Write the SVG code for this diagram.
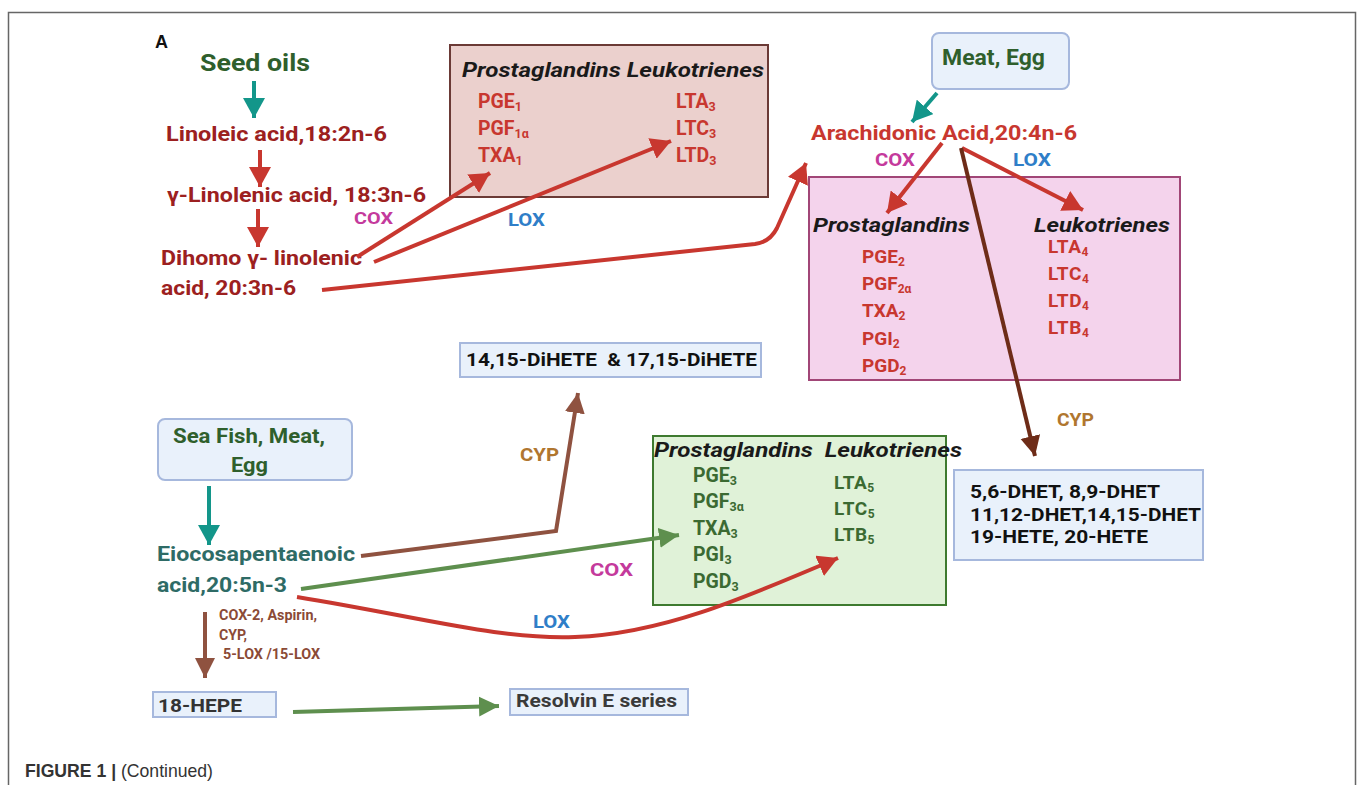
<svg xmlns="http://www.w3.org/2000/svg" width="1358" height="785" viewBox="0 0 1358 785">
<style>
text{font-family:Roboto,"Liberation Sans",sans-serif;font-weight:bold}
.dg{fill:#2f5f2c}
.dr{fill:#9c2020}
.rd{fill:#c8372f}
.gr{fill:#3b6a32}
.tl{fill:#2e6b66}
.it{font-style:italic;fill:#1a1a1a}
.cox{fill:#c43a9c}
.lox{fill:#2f7ec8}
.cyp{fill:#b0762f}
.blk{fill:#111}
.bx{fill:#e9f1fb;stroke:#a6b8dd;stroke-width:2}
.ln{fill:none;stroke-width:4}
.ar{font-family:"Liberation Sans",Arial,sans-serif}
</style>
<defs>
<marker id="hTeal" markerUnits="userSpaceOnUse" markerWidth="22" markerHeight="22" viewBox="0 0 22 22" refX="20" refY="11" orient="auto"><path d="M0,0 L20,11 L0,22 z" fill="#13968a"/></marker>
<marker id="hRed" markerUnits="userSpaceOnUse" markerWidth="22" markerHeight="22" viewBox="0 0 22 22" refX="20" refY="11" orient="auto"><path d="M0,0 L20,11 L0,22 z" fill="#c8372f"/></marker>
<marker id="hBrown" markerUnits="userSpaceOnUse" markerWidth="22" markerHeight="22" viewBox="0 0 22 22" refX="20" refY="11" orient="auto"><path d="M0,1 L20,11 L0,21 z" fill="#8f5240"/></marker>
<marker id="hDBrown" markerUnits="userSpaceOnUse" markerWidth="22" markerHeight="22" viewBox="0 0 22 22" refX="20" refY="11" orient="auto"><path d="M0,1 L20,11 L0,21 z" fill="#6e2c18"/></marker>
<marker id="hGreen" markerUnits="userSpaceOnUse" markerWidth="22" markerHeight="22" viewBox="0 0 22 22" refX="20" refY="11" orient="auto"><path d="M0,1 L20,11 L0,21 z" fill="#5e8f4e"/></marker>
</defs>
<rect width="1358" height="785" fill="#fff"/>
<path d="M8.5,785 V12.5 H1355.5 V785" fill="none" stroke="#666" stroke-width="1.5"/>
<text x="155" y="48" font-size="18" fill="#111" class="ar">A</text>

<g id="seed-oils"><text x="200" y="71" font-size="24" class="dg" textLength="110" lengthAdjust="spacingAndGlyphs">Seed oils</text></g>
<g id="linoleic"><text x="166" y="141" font-size="21" class="dr" textLength="221" lengthAdjust="spacingAndGlyphs">Linoleic acid,18:2n-6</text></g>
<g id="gamma-linolenic"><text x="167" y="202" font-size="21" class="dr" textLength="259" lengthAdjust="spacingAndGlyphs">γ-Linolenic acid, 18:3n-6</text></g>
<g id="dihomo"><text x="161" y="265" font-size="21" class="dr" textLength="201" lengthAdjust="spacingAndGlyphs">Dihomo γ- linolenic</text><text x="161" y="295" font-size="21" class="dr" textLength="135" lengthAdjust="spacingAndGlyphs">acid, 20:3n-6</text></g>

<g id="box-series1">
<rect x="450" y="45" width="318" height="152" fill="#ebd0cd" stroke="#6b3a36" stroke-width="2"/>
<text x="462" y="77" font-size="19.5" class="it" textLength="302" lengthAdjust="spacingAndGlyphs">Prostaglandins Leukotrienes</text>
<text x="478" y="108" font-size="19.5" class="rd">PGE<tspan font-size="12.5" dy="3">1</tspan></text>
<text x="478" y="135" font-size="19.5" class="rd">PGF<tspan font-size="12.5" dy="3">1α</tspan></text>
<text x="478" y="162" font-size="19.5" class="rd">TXA<tspan font-size="12.5" dy="3">1</tspan></text>
<text x="676" y="108" font-size="19.5" class="rd">LTA<tspan font-size="12.5" dy="3">3</tspan></text>
<text x="676" y="135" font-size="19.5" class="rd">LTC<tspan font-size="12.5" dy="3">3</tspan></text>
<text x="676" y="162" font-size="19.5" class="rd">LTD<tspan font-size="12.5" dy="3">3</tspan></text>
</g>

<g id="meat-egg"><rect x="932" y="33" width="137" height="56" rx="7" class="bx"/><text x="942" y="65" font-size="22" class="dg" textLength="103" lengthAdjust="spacingAndGlyphs">Meat, Egg</text></g>
<g id="arachidonic"><text x="811" y="140" font-size="21" class="rd" textLength="266" lengthAdjust="spacingAndGlyphs">Arachidonic Acid,20:4n-6</text></g>

<g id="box-series2">
<rect x="809" y="177" width="371" height="203" fill="#f4d3ec" stroke="#a14677" stroke-width="2"/>
<text x="813" y="232" font-size="20" class="it" textLength="157" lengthAdjust="spacingAndGlyphs">Prostaglandins</text>
<text x="1034" y="232" font-size="20" class="it" textLength="136" lengthAdjust="spacingAndGlyphs">Leukotrienes</text>
<text x="862" y="263" font-size="19" class="rd">PGE<tspan font-size="12" dy="3">2</tspan></text>
<text x="862" y="290" font-size="19" class="rd">PGF<tspan font-size="12" dy="3">2α</tspan></text>
<text x="862" y="317" font-size="19" class="rd">TXA<tspan font-size="12" dy="3">2</tspan></text>
<text x="862" y="345" font-size="19" class="rd">PGI<tspan font-size="12" dy="3">2</tspan></text>
<text x="862" y="372" font-size="19" class="rd">PGD<tspan font-size="12" dy="3">2</tspan></text>
<text x="1048" y="253" font-size="19" class="rd" letter-spacing="0.6">LTA<tspan font-size="12" dy="3">4</tspan></text>
<text x="1048" y="280" font-size="19" class="rd" letter-spacing="0.6">LTC<tspan font-size="12" dy="3">4</tspan></text>
<text x="1048" y="307" font-size="19" class="rd" letter-spacing="0.6">LTD<tspan font-size="12" dy="3">4</tspan></text>
<text x="1048" y="334" font-size="19" class="rd" letter-spacing="0.6">LTB<tspan font-size="12" dy="3">4</tspan></text>
</g>

<g id="dihete"><rect x="460" y="343" width="301" height="34" class="bx"/><text x="466" y="366" font-size="19" class="blk" xml:space="preserve" textLength="291" lengthAdjust="spacingAndGlyphs">14,15-DiHETE  &amp; 17,15-DiHETE</text></g>

<g id="dhet"><rect x="954" y="470" width="249" height="90" class="bx"/>
<text x="970" y="498" font-size="19" class="blk" textLength="190" lengthAdjust="spacingAndGlyphs">5,6-DHET, 8,9-DHET</text>
<text x="970" y="521" font-size="19" class="blk" textLength="231" lengthAdjust="spacingAndGlyphs">11,12-DHET,14,15-DHET</text>
<text x="970" y="543" font-size="19" class="blk" textLength="178" lengthAdjust="spacingAndGlyphs">19-HETE, 20-HETE</text>
</g>

<g id="sea-fish"><rect x="158" y="419" width="194" height="61" rx="7" class="bx"/>
<text x="173" y="443" font-size="20" class="dg" textLength="152" lengthAdjust="spacingAndGlyphs">Sea Fish, Meat,</text>
<text x="231" y="472" font-size="20" class="dg" textLength="37" lengthAdjust="spacingAndGlyphs">Egg</text></g>

<g id="epa"><text x="157" y="561" font-size="21" class="tl" textLength="198" lengthAdjust="spacingAndGlyphs">Eiocosapentaenoic</text><text x="157" y="592" font-size="21" class="tl" textLength="130" lengthAdjust="spacingAndGlyphs">acid,20:5n-3</text></g>

<g id="box-series3">
<rect x="653" y="436" width="293" height="169" fill="#e0f2d8" stroke="#3e7a2f" stroke-width="2"/>
<text x="654" y="457" font-size="19.5" class="it" xml:space="preserve" textLength="308" lengthAdjust="spacingAndGlyphs">Prostaglandins  Leukotrienes</text>
<text x="693" y="482" font-size="19.5" class="gr">PGE<tspan font-size="12.5" dy="3">3</tspan></text>
<text x="693" y="508" font-size="19.5" class="gr">PGF<tspan font-size="12.5" dy="3">3α</tspan></text>
<text x="693" y="535" font-size="19.5" class="gr">TXA<tspan font-size="12.5" dy="3">3</tspan></text>
<text x="693" y="561" font-size="19.5" class="gr">PGI<tspan font-size="12.5" dy="3">3</tspan></text>
<text x="693" y="588" font-size="19.5" class="gr">PGD<tspan font-size="12.5" dy="3">3</tspan></text>
<text x="834" y="489" font-size="19" class="gr" letter-spacing="0.5">LTA<tspan font-size="12" dy="3">5</tspan></text>
<text x="834" y="515" font-size="19" class="gr" letter-spacing="0.5">LTC<tspan font-size="12" dy="3">5</tspan></text>
<text x="834" y="541" font-size="19" class="gr" letter-spacing="0.5">LTB<tspan font-size="12" dy="3">5</tspan></text>
</g>

<g id="hepe"><rect x="153" y="692" width="123" height="25" class="bx"/><text x="158" y="712" font-size="19" fill="#333" textLength="84" lengthAdjust="spacingAndGlyphs">18-HEPE</text></g>
<g id="resolvin"><rect x="510" y="689" width="178" height="26" class="bx"/><text x="516" y="707" font-size="18" fill="#3a3a3a" textLength="161" lengthAdjust="spacingAndGlyphs">Resolvin E series</text></g>

<g id="labels">
<text x="354" y="224" font-size="16" class="cox" textLength="39" lengthAdjust="spacingAndGlyphs">COX</text>
<text x="508" y="226" font-size="19" class="lox" textLength="37" lengthAdjust="spacingAndGlyphs">LOX</text>
<text x="875" y="166" font-size="19" class="cox" textLength="40" lengthAdjust="spacingAndGlyphs">COX</text>
<text x="1013" y="166" font-size="19" class="lox" textLength="38" lengthAdjust="spacingAndGlyphs">LOX</text>
<text x="1057" y="426" font-size="18" class="cyp" textLength="37" lengthAdjust="spacingAndGlyphs">CYP</text>
<text x="520" y="461" font-size="18" class="cyp" textLength="39" lengthAdjust="spacingAndGlyphs">CYP</text>
<text x="590" y="576" font-size="19" class="cox" textLength="43" lengthAdjust="spacingAndGlyphs">COX</text>
<text x="533" y="628" font-size="19" class="lox" textLength="37" lengthAdjust="spacingAndGlyphs">LOX</text>
<text x="219" y="620" font-size="14" fill="#8b4a36" textLength="98" lengthAdjust="spacingAndGlyphs">COX-2, Aspirin,</text>
<text x="219" y="640" font-size="14" fill="#8b4a36" textLength="28" lengthAdjust="spacingAndGlyphs">CYP,</text>
<text x="223" y="659" font-size="14" fill="#8b4a36" textLength="97" lengthAdjust="spacingAndGlyphs">5-LOX /15-LOX</text>
</g>

<g id="connectors">
<line x1="254" y1="81" x2="254" y2="118" class="ln" stroke="#13968a" marker-end="url(#hTeal)"/>
<line x1="260" y1="150" x2="260" y2="187" class="ln" stroke="#c8372f" marker-end="url(#hRed)"/>
<line x1="258" y1="209" x2="258" y2="247" class="ln" stroke="#c8372f" marker-end="url(#hRed)"/>
<line x1="357" y1="257" x2="490" y2="173" class="ln" stroke="#c8372f" marker-end="url(#hRed)"/>
<line x1="374" y1="262" x2="671" y2="141" class="ln" stroke="#c8372f" marker-end="url(#hRed)"/>
<path d="M322,290 L755,244 Q770,242 777,228 L806,163" class="ln" stroke="#c8372f" marker-end="url(#hRed)"/>
<line x1="937" y1="93" x2="912" y2="122" class="ln" stroke="#13968a" marker-end="url(#hTeal)"/>
<line x1="942" y1="143" x2="887" y2="213" class="ln" stroke="#c8372f" marker-end="url(#hRed)"/>
<line x1="962" y1="148" x2="1083" y2="210" class="ln" stroke="#c8372f" marker-end="url(#hRed)"/>
<line x1="961" y1="148" x2="1035" y2="456" class="ln" stroke="#6e2c18" marker-end="url(#hDBrown)"/>
<line x1="209" y1="486" x2="209" y2="545" class="ln" stroke="#13968a" marker-end="url(#hTeal)"/>
<path d="M361,556 L556,531 L578,393" class="ln" stroke="#8f5240" marker-end="url(#hBrown)"/>
<line x1="301" y1="589" x2="679" y2="535" class="ln" stroke="#5e8f4e" marker-end="url(#hGreen)"/>
<path d="M297,597 C420,617 500,640 575,637 C660,634 740,600 838,558" class="ln" stroke="#c8372f" marker-end="url(#hRed)"/>
<line x1="205" y1="612" x2="205" y2="678" class="ln" stroke="#8f5240" marker-end="url(#hBrown)"/>
<line x1="293" y1="712" x2="499" y2="706" class="ln" stroke="#5e8f4e" marker-end="url(#hGreen)"/>
</g>

<text x="25" y="777" font-size="18.5" fill="#333" class="ar" textLength="188" lengthAdjust="spacingAndGlyphs">FIGURE 1 | <tspan font-weight="normal">(Continued)</tspan></text>
</svg>
